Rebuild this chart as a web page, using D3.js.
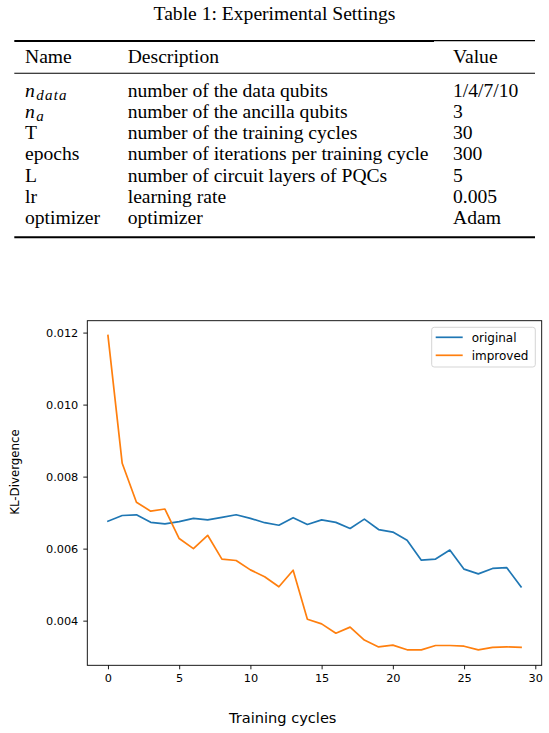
<!DOCTYPE html>
<html>
<head>
<meta charset="utf-8">
<script src="https://cdn.jsdelivr.net/npm/d3@7"></script>
<style>
  body { margin: 0; background: #fff; }
  svg { display: block; }
</style>
</head>
<body>
<svg id="chart"></svg>
<script>
// table rows
var names = ['n_data', 'n_a', 'T', 'epochs', 'L', 'lr', 'optimizer'];
var descriptions = ['number of the data qubits', 'number of the ancilla qubits',
  'number of the training cycles', 'number of iterations per training cycle',
  'number of circuit layers of PQCs', 'learning rate', 'optimizer'];
var values = ['1/4/7/10', '3', '30', '300', '5', '0.005', 'Adam'];

// line chart series
var cycles = d3.range(0, 30);
var original = [0.00676, 0.00692, 0.00694, 0.00673, 0.00669, 0.00675, 0.00684, 0.00680, 0.00687, 0.00694,
  0.00684, 0.00672, 0.00665, 0.00686, 0.00667, 0.00680, 0.00673, 0.00656, 0.00682, 0.00653,
  0.00646, 0.00623, 0.00568, 0.00571, 0.00596, 0.00543, 0.00530, 0.00545, 0.00547, 0.00494];
var improved = [0.01192, 0.00837, 0.00729, 0.00704, 0.00710, 0.00628, 0.00600, 0.00637, 0.00571, 0.00567,
  0.00541, 0.00522, 0.00494, 0.00540, 0.00404, 0.00391, 0.00365, 0.00382, 0.00346, 0.00327,
  0.00332, 0.00319, 0.00319, 0.00331, 0.00331, 0.00329, 0.00319, 0.00326, 0.00327, 0.00326];
var xTicks = [0, 5, 10, 15, 20, 25, 30];
var yTicks = [0.004, 0.006, 0.008, 0.010, 0.012];

var svgWidth = 549, svgHeight = 733;
var svg = d3.select('#chart')
    .attr('width', svgWidth)
    .attr('height', svgHeight);

// ---------- table ----------
var serif = '"Liberation Serif", "Times New Roman", serif';
var tbl = svg.append('g').style('font-family', serif).style('font-size', '19.6px').attr('fill', '#000');

tbl.append('text')
    .attr('x', 274.5).attr('y', 20)
    .attr('text-anchor', 'middle')
    .text('Table 1: Experimental Settings');

// rules (top rule is a bit thinner at its right end, as in the source)
tbl.append('line').attr('x1', 14.3).attr('x2', 434).attr('y1', 41).attr('y2', 41)
    .attr('stroke', '#000').attr('stroke-width', 1.9);
tbl.append('line').attr('x1', 434).attr('x2', 535).attr('y1', 40.6).attr('y2', 40.6)
    .attr('stroke', '#000').attr('stroke-width', 1.3);
tbl.append('line').attr('x1', 14.3).attr('x2', 535).attr('y1', 73.3).attr('y2', 73.3)
    .attr('stroke', '#000').attr('stroke-width', 1.1);
tbl.append('line').attr('x1', 14.3).attr('x2', 535).attr('y1', 237.3).attr('y2', 237.3)
    .attr('stroke', '#000').attr('stroke-width', 1.9);

var colX = [25, 127.7, 453];
['Name', 'Description', 'Value'].forEach(function(h, i) {
  tbl.append('text').attr('x', colX[i]).attr('y', 63.3).text(h);
});

var rowY = d3.scaleLinear().domain([0, 6]).range([96.7, 224]);

var rows = tbl.selectAll('g.row')
    .data(names)
    .enter()
    .append('g')
    .attr('class', 'row')
    .attr('transform', function(d, i) { return 'translate(0,' + rowY(i) + ')'; });

rows.each(function(d, i) {
  var g = d3.select(this);
  var t = g.append('text').attr('x', colX[0]).attr('y', 0);
  if (d.indexOf('_') > 0) {
    // math symbol with subscript
    var parts = d.split('_');
    t.append('tspan').style('font-style', 'italic').style('letter-spacing', '1px').text(parts[0]);
    t.append('tspan').style('font-style', 'italic').style('font-size', '15px')
        .style('letter-spacing', '1.2px')
        .attr('dx', 0.5).attr('dy', 3).text(parts[1]);
  } else {
    t.text(d);
  }
  g.append('text').attr('x', colX[1]).attr('y', 0).text(descriptions[i]);
  g.append('text').attr('x', colX[2]).attr('y', 0).text(values[i]);
});

// ---------- line chart ----------
var plotLeft = 87.3, plotRight = 541.7, plotTop = 320.7, plotBottom = 665.3;

var x = d3.scaleLinear().domain([-1.45, 30.45]).range([plotLeft, plotRight]);
var y = d3.scaleLinear().domain([0.00276, 0.01233]).range([plotBottom, plotTop]);

var chart = svg.append('g').style('font-family', '"DejaVu Sans", sans-serif');

var xAxis = d3.axisBottom(x).tickValues(xTicks).tickSize(4).tickPadding(5)
    .tickFormat(d3.format('d'));
var yAxis = d3.axisLeft(y).tickValues(yTicks).tickSize(4).tickPadding(5)
    .tickFormat(d3.format('.3f'));

chart.append('g')
    .attr('transform', 'translate(0,' + plotBottom + ')')
    .call(xAxis)
    .call(function(g) { g.select('.domain').remove(); });

chart.append('g')
    .attr('transform', 'translate(' + plotLeft + ',0)')
    .call(yAxis)
    .call(function(g) { g.select('.domain').remove(); });

chart.selectAll('.tick text')
    .attr('font-size', null).attr('font-family', null)
    .style('font-size', '11.3px').attr('fill', '#000')
    .style('font-family', '"DejaVu Sans", sans-serif');
chart.selectAll('.tick line').attr('stroke', '#000').attr('stroke-width', 0.9);

var line = d3.line()
    .x(function(d, i) { return x(cycles[i]); })
    .y(function(d) { return y(d); });

var series = [
  { name: 'original', values: original, color: '#1f77b4' },
  { name: 'improved', values: improved, color: '#ff7f0e' }
];

chart.selectAll('path.series')
    .data(series)
    .enter()
    .append('path')
    .attr('class', 'series')
    .attr('d', function(d) { return line(d.values); })
    .attr('fill', 'none')
    .attr('stroke', function(d) { return d.color; })
    .attr('stroke-width', 1.7)
    .attr('stroke-linejoin', 'round')
    .attr('stroke-linecap', 'square');

// axes frame
chart.append('rect')
    .attr('x', plotLeft).attr('y', plotTop)
    .attr('width', plotRight - plotLeft).attr('height', plotBottom - plotTop)
    .attr('fill', 'none').attr('stroke', '#000').attr('stroke-width', 0.9);

// legend
var legend = chart.append('g');
legend.append('rect')
    .attr('x', 431.7).attr('y', 327.3)
    .attr('width', 103.6).attr('height', 39.7)
    .attr('rx', 2.5)
    .attr('fill', '#fff').attr('fill-opacity', 0.8)
    .attr('stroke', '#d0d0d0').attr('stroke-width', 0.9);

var legendY = d3.scaleLinear().domain([0, 1]).range([337.3, 355.3]);
var items = legend.selectAll('g.item')
    .data(series)
    .enter()
    .append('g')
    .attr('class', 'item')
    .attr('transform', function(d, i) { return 'translate(0,' + legendY(i) + ')'; });
items.append('line')
    .attr('x1', 435.7).attr('x2', 462.7)
    .attr('stroke', function(d) { return d.color; })
    .attr('stroke-width', 1.7);
items.append('text')
    .attr('x', 471.7).attr('dy', '0.35em')
    .style('font-size', '12px')
    .attr('fill', '#000')
    .text(function(d) { return d.name; });

// axis labels
chart.append('text')
    .attr('x', 282.7).attr('y', 723)
    .attr('text-anchor', 'middle')
    .style('font-size', '14.6px')
    .text('Training cycles');

chart.append('text')
    .attr('transform', 'translate(19,472) rotate(-90)')
    .attr('text-anchor', 'middle')
    .style('font-size', '11.8px')
    .text('KL-Divergence');
</script>
</body>
</html>
